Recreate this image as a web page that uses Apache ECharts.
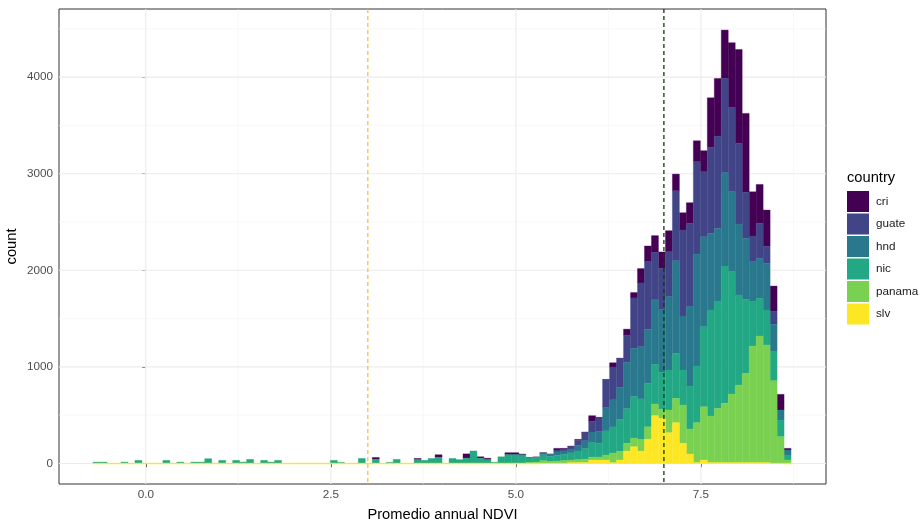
<!DOCTYPE html>
<html>
<head>
<meta charset="utf-8">
<script src="https://cdn.jsdelivr.net/npm/echarts@6/dist/echarts.min.js"></script>
<style>
html, body { margin: 0; padding: 0; background: #ffffff; }
#chart { width: 922px; height: 525px; }
</style>
</head>
<body>
<div id="chart"></div>
<script>
// Histogram of mean annual NDVI, stacked by country (100 bins).
const binLeft = -0.712;   // left edge of the first bin
const binStep = 0.0943;   // bin width

const countries = ['cri', 'guate', 'hnd', 'nic', 'panama', 'slv'];
const palette = {
  cri: '#440154', guate: '#414487', hnd: '#2A788E',
  nic: '#22A884', panama: '#7AD151', slv: '#FDE725'
};

const xTicks = [0, 2.5, 5, 7.5];
const xMinor = [1.25, 3.75, 6.25, 8.75];
const yTicks = [0, 1000, 2000, 3000, 4000];
const yMinor = [500, 1500, 2500, 3500, 4500];
const vlineLow = 3.0;
const vlineHigh = 7.0;

// counts per bin, bins 0..99
const slv = [
  0,0,0,0,0,0,0,0,0,0, 0,0,0,0,0,0,0,0,0,0,
  0,0,0,0,0,0,0,0,0,0, 0,0,0,0,0,0,0,0,0,0,
  0,0,0,0,0,0,0,0,0,0, 0,0,0,0,0,0,0,0,0,0,
  0,0,0,0,5,5,5,5,10,10, 10,36,36,36,9,36,129,174,129,250,
  495,467,319,423,209,98,10,36,10,10, 10,10,10,10,10,10,10,5,5,0
];
const panama = [
  0,0,0,0,0,0,0,0,0,0, 0,0,0,0,0,0,0,0,0,0,
  0,0,0,0,0,0,0,0,0,0, 0,0,0,0,0,0,0,0,0,0,
  0,0,0,0,0,0,0,0,0,0, 0,0,0,0,0,0,0,0,0,0,
  0,0,10,15,25,15,20,25,25,30, 35,30,30,52,100,90,80,90,120,130,
  120,95,235,251,397,259,413,552,482,561, 613,709,802,923,1206,1310,1217,852,273,36
];
const nic = [
  15,15,0,0,15,0,33,0,0,0, 33,0,15,0,15,15,50,0,33,0,
  33,15,43,0,33,15,33,0,0,0, 0,0,0,0,33,12,0,0,53,0,
  43,0,12,43,0,0,40,33,53,63, 0,53,40,55,130,55,40,13,70,92,
  92,90,50,50,60,55,60,65,75,90, 110,150,145,250,270,330,360,430,420,450,
  410,380,414,466,362,445,586,828,1097,1104, 1421,1267,932,766,459,389,362,300,172,52
];
const hnd = [
  0,0,0,0,0,0,0,0,0,0, 0,0,0,0,0,0,0,0,0,0,
  0,0,0,0,0,0,0,0,0,0, 0,0,0,0,0,0,0,0,0,0,
  0,0,0,0,0,0,0,0,0,0, 0,0,0,0,0,0,0,0,0,0,
  0,0,0,0,20,20,35,35,40,60, 80,110,120,240,280,330,480,500,540,560,
  670,650,759,959,559,828,1159,931,793,759, 966,828,735,631,414,414,483,283,104,52
];
const guate = [
  0,0,0,0,0,0,0,0,0,0, 0,0,0,0,0,0,0,0,0,0,
  0,0,0,0,0,0,0,0,0,0, 0,0,0,0,0,0,0,0,0,0,
  0,0,0,0,0,0,0,0,0,0, 0,0,0,0,0,0,0,0,0,0,
  0,0,0,0,0,0,20,20,25,50, 85,110,140,290,340,300,280,520,660,700,
  490,430,465,724,890,856,956,673,890,955, 976,872,835,477,266,363,178,138,0,0
];
const cri = [
  0,0,0,0,0,0,0,0,0,0, 0,0,0,0,0,0,0,0,0,0,
  0,0,0,0,0,0,0,0,0,0, 0,0,0,0,0,0,0,0,0,0,
  20,0,0,0,0,0,13,0,0,28, 0,0,0,45,0,15,15,0,0,20,
  20,8,3,3,2,3,17,7,6,10, 6,59,7,3,44,5,62,56,149,162,
  174,168,218,173,179,214,217,218,514,597, 501,670,972,817,458,403,374,259,162,17
];

const counts = { cri, guate, hnd, nic, panama, slv };
const stackOrder = ['slv', 'panama', 'nic', 'hnd', 'guate', 'cri']; // bottom to top

// running bottoms for the stacked bars
const bottoms = {};
let running = slv.map(() => 0);
for (const k of stackOrder) {
  bottoms[k] = running.slice();
  running = running.map((v, i) => v + counts[k][i]);
}

function hexToRgba(hex, a) {
  const n = parseInt(hex.slice(1), 16);
  return 'rgba(' + (n >> 16 & 255) + ',' + (n >> 8 & 255) + ',' + (n & 255) + ',' + a + ')';
}

function barSeries(name) {
  const data = counts[name].map((c, i) => {
    const x0 = binLeft + i * binStep;
    return [x0, x0 + binStep, bottoms[name][i], bottoms[name][i] + c];
  });
  const fill = palette[name];
  const edge = hexToRgba(fill, 0.45);
  return {
    name: name,
    type: 'custom',
    z: 5,
    itemStyle: { color: fill },
    encode: { x: [0, 1], y: [2, 3] },
    data: data,
    renderItem: function (params, api) {
      const a = api.coord([api.value(0), api.value(2)]);
      const b = api.coord([api.value(1), api.value(3)]);
      const h = a[1] - b[1];
      if (h <= 0) {
        // empty bins only leave the bottom layer's baseline stroke
        if (name !== 'slv') return null;
        return {
          type: 'line',
          shape: { x1: a[0], y1: a[1], x2: b[0], y2: a[1] },
          style: { stroke: fill, lineWidth: 1.4 }
        };
      }
      return {
        type: 'rect',
        shape: { x: a[0], y: b[1], width: b[0] - a[0], height: h },
        style: { fill: fill, stroke: edge, lineWidth: 0.8 }
      };
    }
  };
}

// background grid lines, drawn before the bars
const gridSpecs = [].concat(
  xMinor.map(v => ['x', v, 0]),
  yMinor.map(v => ['y', v, 0]),
  xTicks.map(v => ['x', v, 1]),
  yTicks.map(v => ['y', v, 1])
);
const gridSeries = {
  type: 'custom', z: 1, silent: true,
  data: gridSpecs.map((s, i) => [i]),
  renderItem: function (params, api) {
    const s = gridSpecs[api.value(0)];
    const cs = params.coordSys;
    const style = { stroke: s[2] ? '#EBEBEB' : '#F3F3F3', lineWidth: s[2] ? 1.1 : 0.6 };
    if (s[0] === 'x') {
      const p = api.coord([s[1], 0]);
      return { type: 'line', shape: { x1: p[0], y1: cs.y, x2: p[0], y2: cs.y + cs.height }, style };
    }
    const p = api.coord([0, s[1]]);
    return { type: 'line', shape: { x1: cs.x, y1: p[1], x2: cs.x + cs.width, y2: p[1] }, style };
  }
};

const refSpecs = [[vlineLow, '#FFBE40'], [vlineHigh, '#0B3D0B']];
const refSeries = {
  type: 'custom', z: 10, silent: true,
  data: refSpecs.map((s, i) => [i]),
  renderItem: function (params, api) {
    const s = refSpecs[api.value(0)];
    const cs = params.coordSys;
    const p = api.coord([s[0], 0]);
    return {
      type: 'line',
      shape: { x1: p[0], y1: cs.y, x2: p[0], y2: cs.y + cs.height },
      style: { stroke: s[1], lineWidth: 1.3, lineDash: [4, 3] }
    };
  }
};

const chart = echarts.init(document.getElementById('chart'), null, { renderer: 'canvas' });
const font = '"Liberation Sans", Arial, sans-serif';

chart.setOption({
  animation: false,
  backgroundColor: '#ffffff',
  textStyle: { fontFamily: font },
  grid: {
    left: 59, right: 96, top: 9, bottom: 41,
    containLabel: false, outerBoundsMode: 'none',
    show: true, borderColor: '#333333', borderWidth: 1, backgroundColor: 'transparent'
  },
  legend: {
    data: countries,
    orient: 'vertical',
    left: 847, top: 191,
    padding: 0,
    icon: 'rect',
    itemWidth: 22, itemHeight: 21, itemGap: 1.5,
    textStyle: { fontSize: 11.7, color: '#1A1A1A', fontFamily: font, padding: [0, 0, 0, 2] },
    selectedMode: false
  },
  graphic: [{
    type: 'text', left: 847, top: 170,
    style: { text: 'country', fontSize: 14.7, fill: '#000000', fontFamily: font }
  }],
  xAxis: {
    type: 'value',
    min: -1.172, max: 9.19,
    name: 'Promedio annual NDVI',
    nameLocation: 'middle', nameGap: 23, nameMoveOverlap: false,
    nameTextStyle: { fontSize: 14.7, color: '#000000', fontFamily: font },
    axisLine: { show: false },
    splitLine: { show: false },
    axisTick: { show: true, customValues: xTicks, length: 3.7, lineStyle: { color: '#333333', width: 1 } },
    axisLabel: {
      customValues: xTicks, margin: 5,
      fontSize: 11.7, color: '#4D4D4D', fontFamily: font,
      formatter: v => Number(v).toFixed(1)
    }
  },
  yAxis: {
    type: 'value',
    min: -212, max: 4705,
    name: 'count',
    nameLocation: 'middle', nameGap: 40, nameMoveOverlap: false,
    nameTextStyle: { fontSize: 14.7, color: '#000000', fontFamily: font },
    axisLine: { show: false },
    splitLine: { show: false },
    axisTick: { show: true, customValues: yTicks, length: 3.7, lineStyle: { color: '#333333', width: 1 } },
    axisLabel: {
      customValues: yTicks, margin: 6,
      fontSize: 11.7, color: '#4D4D4D', fontFamily: font,
      formatter: v => String(v)
    }
  },
  series: [gridSeries].concat(countries.map(barSeries)).concat([refSeries])
});
</script>
</body>
</html>
